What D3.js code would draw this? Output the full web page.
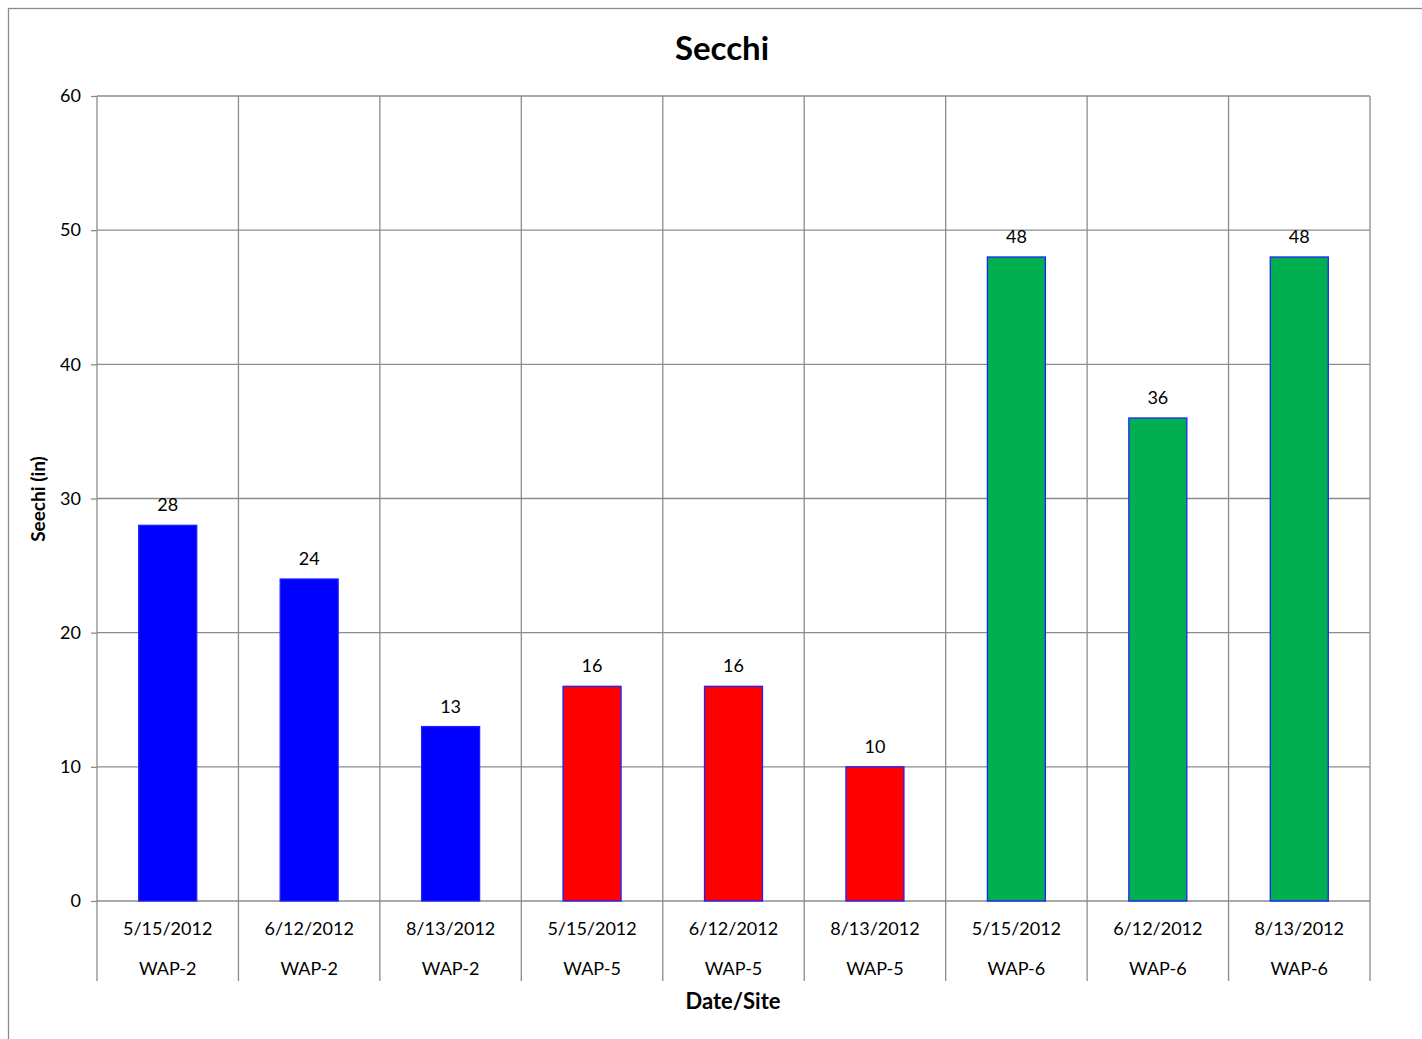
<!DOCTYPE html>
<html><head><meta charset="utf-8">
<script src="https://cdn.jsdelivr.net/npm/d3@7"></script>
<style>body{margin:0;background:#fff}svg{display:block}text{font-family:Lato,"Open Sans",sans-serif}</style>
</head><body>
<svg id="c" width="1422" height="1039"></svg>
<script>
const dates = ["5/15/2012","6/12/2012","8/13/2012","5/15/2012","6/12/2012","8/13/2012","5/15/2012","6/12/2012","8/13/2012"];
const sites = ["WAP-2","WAP-2","WAP-2","WAP-5","WAP-5","WAP-5","WAP-6","WAP-6","WAP-6"];
const values = [28,24,13,16,16,10,48,36,48];
const fills = ["#0000FF","#0000FF","#0000FF","#FF0000","#FF0000","#FF0000","#00B050","#00B050","#00B050"];
const yTicks = [0,10,20,30,40,50,60];

const svg = d3.select("#c");
const L=97,R=1370,T=96,B=901;
svg.append("rect").attr("x",8.5).attr("y",8.5).attr("width",1430).attr("height",1040).attr("fill","#fff").attr("stroke","#8c8c8c").attr("stroke-width",1.3);

const idx = d3.range(values.length);
const x = d3.scaleBand().domain(idx).range([L,R]).paddingInner(0).paddingOuter(0);
const y = d3.scaleLinear().domain([0,60]).range([B,T]);
const grid="#8c8c8c";

const yAxis = d3.axisLeft(y).tickValues(yTicks).tickSize(6).tickPadding(10);
const ya = svg.append("g").attr("transform",`translate(${L},0)`).call(yAxis);
ya.select(".domain").remove();
ya.selectAll("line").attr("stroke",grid).attr("stroke-width",1.3);
ya.selectAll("text").attr("font-size",18).attr("fill","#000");
svg.append("g").selectAll("line").data(yTicks).join("line")
 .attr("x1",L).attr("x2",R).attr("y1",d=>y(d)).attr("y2",d=>y(d)).attr("stroke",grid).attr("stroke-width",1.3);

const bounds = idx.map(i=>x(i)).concat([R]);
svg.append("g").selectAll("line").data(bounds).join("line")
 .attr("x1",d=>d).attr("x2",d=>d).attr("y1",T).attr("y2",981).attr("stroke",grid).attr("stroke-width",1.3);

const bw = x.bandwidth()*0.41;
svg.append("g").selectAll("rect").data(idx).join("rect")
 .attr("x",i=>x(i)+x.bandwidth()/2-bw/2).attr("width",bw)
 .attr("y",i=>y(values[i])).attr("height",i=>B-y(values[i]))
 .attr("fill",i=>fills[i]).attr("stroke","#2020ff").attr("stroke-width",1.3);

svg.append("g").selectAll("text").data(idx).join("text")
 .attr("x",i=>x(i)+x.bandwidth()/2).attr("y",i=>y(values[i])-14)
 .attr("text-anchor","middle").attr("font-size",18).text(i=>values[i]);

const xl = svg.append("g");
xl.selectAll("text.d").data(idx).join("text").attr("class","d")
 .attr("x",i=>x(i)+x.bandwidth()/2).attr("y",935).attr("text-anchor","middle").attr("font-size",18).text(i=>dates[i]);
xl.selectAll("text.s").data(idx).join("text").attr("class","s")
 .attr("x",i=>x(i)+x.bandwidth()/2).attr("y",975).attr("text-anchor","middle").attr("font-size",18).text(i=>sites[i]);

svg.append("text").attr("x",722).attr("y",60).attr("text-anchor","middle").attr("font-size",33).attr("font-weight","bold").text("Secchi");
svg.append("text").attr("x",733).attr("y",1009).attr("text-anchor","middle").attr("font-size",22).attr("font-weight","bold").text("Date/Site");
svg.append("text").attr("transform","translate(45,499) rotate(-90)").attr("text-anchor","middle").attr("font-size",19).attr("font-weight","bold").text("Seechi (in)");
</script>
</body></html>
